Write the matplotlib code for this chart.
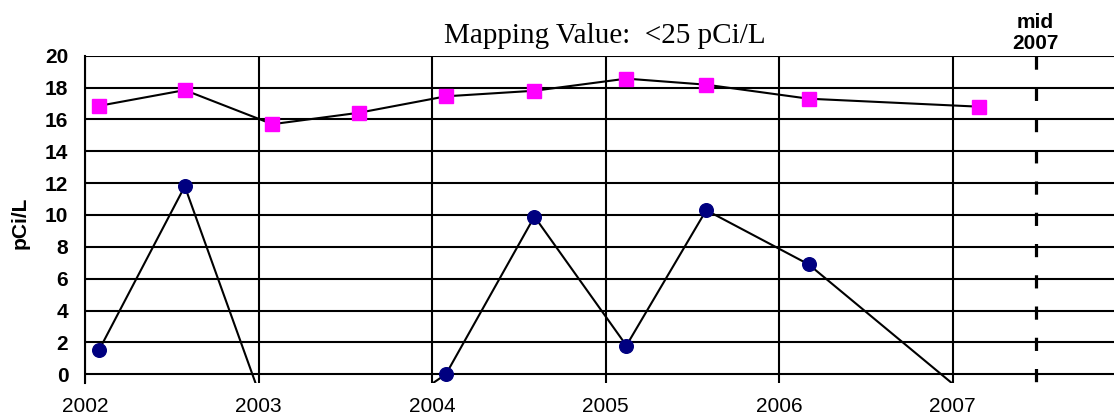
#!/usr/bin/env python3
import matplotlib
matplotlib.use("Agg")
import matplotlib.pyplot as plt

plt.rcParams['font.family'] = ['Liberation Sans', 'DejaVu Sans']
plt.rcParams['lines.scale_dashes'] = False

# sampling dates (decimal years) shared by both series
dates = [2002.08, 2002.575, 2003.08, 2003.58, 2004.08, 2004.59,
         2005.12, 2005.58, 2006.17, 2007.15]
upper_values = [16.85, 17.84, 15.7, 16.42, 17.45, 17.8, 18.56, 18.18, 17.3, 16.8]
lower_values = [1.5, 11.8, -3.5, -3.7, 0.0, 9.9, 1.8, 10.3, 6.9, -1.95]

year_ticks = [2002, 2003, 2004, 2005, 2006, 2007]
y_ticks = list(range(0, 21, 2))
mid_2007 = 2007.48

fig = plt.figure(figsize=(11.14, 4.18), dpi=100)
ax = fig.add_axes([85 / 1114, 1 - 383 / 418, 1 - 85 / 1114, (383 - 55.7) / 418])

ax.set_xlim(2002, 2007.93)
ax.set_ylim(-0.55, 20)

ax.set_yticks(y_ticks)
ax.set_xticks(year_ticks)
ax.set_xticklabels([str(y) for y in year_ticks], fontsize=15)
ax.set_yticklabels([str(v) for v in y_ticks], fontsize=15, fontweight='bold')
ax.tick_params(axis='y', length=0, pad=12)
ax.tick_params(axis='x', length=0, pad=10)

ax.grid(True, color='black', linewidth=1.5)
ax.set_axisbelow(True)
for side in ['top', 'right', 'bottom']:
    ax.spines[side].set_visible(False)
ax.spines['left'].set_linewidth(1.5)

ax.plot(dates, upper_values, color='black', linewidth=1.5, marker='s',
        markersize=9.5, markerfacecolor='#FF00FF', markeredgecolor='#FF00FF', zorder=3)
ax.plot(dates, lower_values, color='black', linewidth=1.5, marker='o',
        markersize=9.8, markerfacecolor='#000080', markeredgecolor='#000080', zorder=3)

ax.plot([mid_2007, mid_2007], [20, -0.55], color='black', linewidth=2.3,
        dashes=(9.5, 13), dash_capstyle='butt', zorder=4)

ax.set_ylabel('pCi/L', fontsize=15, fontweight='bold')
ax.yaxis.set_label_coords(-(85 - 30) / (1114 - 85), 0.49)

fig.text(605 / 1114, 1 - 43 / 418, 'Mapping Value:  <25 pCi/L', ha='center',
         va='baseline', fontsize=21, family=['Liberation Serif', 'DejaVu Serif'])
fig.text(1035 / 1114, 1 - 49 / 418, 'mid\n2007', ha='center', va='baseline',
         fontsize=15, fontweight='bold', linespacing=1.1)

fig.savefig('out.png', dpi=100)
